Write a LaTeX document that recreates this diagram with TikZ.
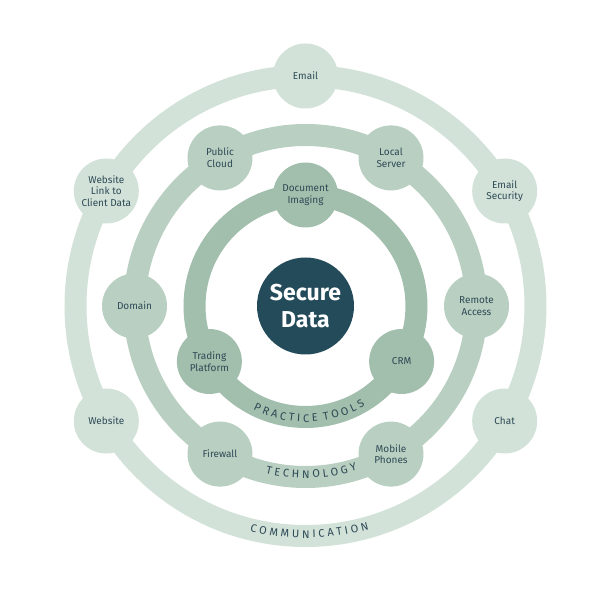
\documentclass[tikz,border=0pt]{standalone}
\usepackage{fontspec}
\setmainfont{Fira Sans}
\usepackage{tikz}
\usetikzlibrary{decorations.text}
\definecolor{outerring}{HTML}{D2E2D8}
\definecolor{middlering}{HTML}{B9CFC1}
\definecolor{innerring}{HTML}{A2BEAC}
\definecolor{coredark}{HTML}{244B5A}
\definecolor{labeltext}{HTML}{2E4A56}
\tikzset{
		ring/.style={
			line width=22pt
		},
		ring node/.style={
			circle,
			minimum size=65pt,
			inner sep=0pt,
			align=center,
			text=labeltext,
			font=\fontsize{10}{11.5}\selectfont
		},
		outer node/.style={ring node, fill=outerring},
		middle node/.style={ring node, fill=middlering},
		inner node/.style={ring node, fill=innerring},
		ring label/.style={
			decorate,
			decoration={
				text along path,
				text align=center,
				text color=labeltext,
				text={|\fontsize{11}{13}\selectfont|#1}
			}
		}
	}
\begin{document}
\begin{tikzpicture}
		\useasboundingbox (-305.5pt,-288pt) rectangle (302.5pt,306pt);
		\node (core) [circle, fill=coredark, minimum size=97pt, inner sep=0pt, align=center,
			text=white, font=\fontsize{23}{27}\selectfont\bfseries] {Secure\\Data};
		%rings:
		\draw[ring, outerring] (core.center) circle (230pt);
		\draw[ring, middlering] (core.center) circle (171pt);
		\draw[ring, innerring] (core.center) circle (111pt);
		%ring labels:
		\path[ring label={C O M M U N I C A T I O N}] ([shift={(241:232pt)}]core.center) arc (241:301:232pt);
		\path[ring label={T E C H N O L O G Y}] ([shift={(242:172pt)}]core.center) arc (242:302:172pt);
		\path[ring label={P R A C T I C E|\fontsize{22}{13}\selectfont| |\fontsize{11}{13}\selectfont|T O O L S}]
			([shift={(240:116pt)}]core.center) arc (240:304:116pt);
		%communication:
		\node (email) [outer node] at (90:230pt) {Email};
		\node (emailsec) [outer node] at (30:230pt) {Email\\Security};
		\node (chat) [outer node] at (-30:230pt) {Chat};
		\node (website) [outer node] at (210:230pt) {Website};
		\node (weblink) [outer node] at (150:230pt) {Website\\Link to\\Client Data};
		%technology:
		\node (cloud) [middle node] at (120:171pt) {Public\\Cloud};
		\node (server) [middle node] at (60:171pt) {Local\\Server};
		\node (remote) [middle node] at (0:171pt) {Remote\\Access};
		\node (mobile) [middle node] at (-60:171pt) {Mobile\\Phones};
		\node (firewall) [middle node] at (240:171pt) {Firewall};
		\node (domain) [middle node] at (180:171pt) {Domain};
		%practice tools:
		\node (imaging) [inner node] at (90:111pt) {Document\\Imaging};
		\node (crm) [inner node] at (-30:111pt) {CRM};
		\node (trading) [inner node] at (210:111pt) {Trading\\Platform};
	\end{tikzpicture}
\end{document}
